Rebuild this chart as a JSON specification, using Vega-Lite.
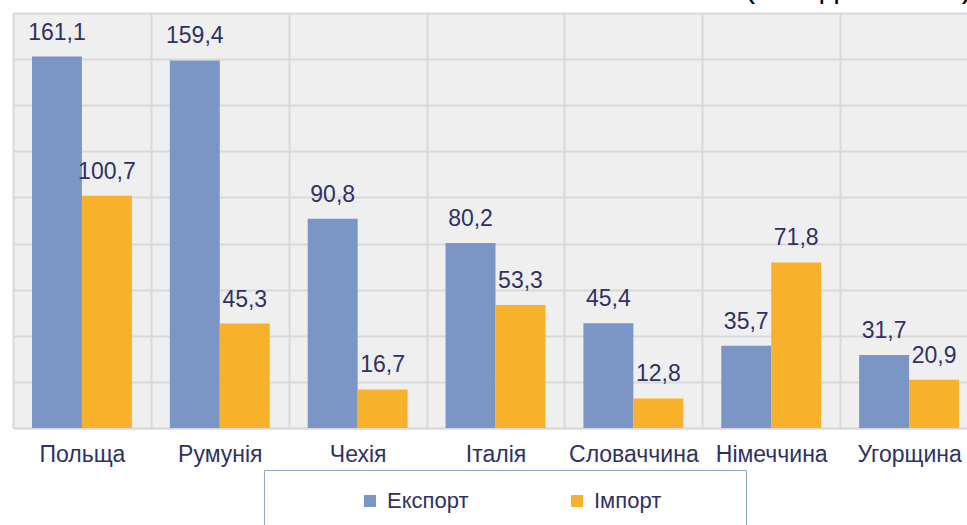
{
  "$schema": "https://vega.github.io/schema/vega-lite/v6.json",
  "width": 965,
  "height": 415,
  "autosize": {"type": "none"},
  "padding": {"left": 13, "top": 13, "right": -11, "bottom": 97},
  "background": "white",
  "title": {"text": "(млн дол. США)", "anchor": "end", "fontSize": 31, "font": "Liberation Sans", "fontWeight": "normal", "color": "black", "baseline": "alphabetic", "offset": 0, "dy": 15, "dx": -6},
  "data": {"values": [
    {"country": "Польща", "type": "Експорт", "value": 161.1},
    {"country": "Польща", "type": "Імпорт", "value": 100.7},
    {"country": "Румунія", "type": "Експорт", "value": 159.4},
    {"country": "Румунія", "type": "Імпорт", "value": 45.3},
    {"country": "Чехія", "type": "Експорт", "value": 90.8},
    {"country": "Чехія", "type": "Імпорт", "value": 16.7},
    {"country": "Італія", "type": "Експорт", "value": 80.2},
    {"country": "Італія", "type": "Імпорт", "value": 53.3},
    {"country": "Словаччина", "type": "Експорт", "value": 45.4},
    {"country": "Словаччина", "type": "Імпорт", "value": 12.8},
    {"country": "Німеччина", "type": "Експорт", "value": 35.7},
    {"country": "Німеччина", "type": "Імпорт", "value": 71.8},
    {"country": "Угорщина", "type": "Експорт", "value": 31.7},
    {"country": "Угорщина", "type": "Імпорт", "value": 20.9}
  ]},
  "encoding": {
    "x": {
      "field": "country", "type": "nominal",
      "sort": ["Польща", "Румунія", "Чехія", "Італія", "Словаччина", "Німеччина", "Угорщина"],
      "scale": {"paddingInner": 0, "paddingOuter": 0},
      "axis": {
        "title": null, "labelAngle": 0, "labelFontSize": 23, "labelFont": "Liberation Sans",
        "labelColor": "#2e3165", "labelPadding": 15, "ticks": false, "tickSize": 0,
        "domainColor": "#d9d9d9", "domainWidth": 2, "grid": true, "tickBand": "extent",
        "gridColor": "#d9d9d9", "gridWidth": 2, "labelOverlap": false, "labelLimit": 300
      }
    },
    "xOffset": {"field": "type", "type": "nominal", "sort": ["Експорт", "Імпорт"], "scale": {"paddingInner": 0, "paddingOuter": 0.38}},
    "y": {
      "field": "value", "type": "quantitative",
      "scale": {"domain": [0, 180], "nice": false},
      "axis": {
        "values": [0, 20, 40, 60, 80, 100, 120, 140, 160, 180], "labels": false, "ticks": false,
        "domain": false, "title": null, "grid": true, "gridColor": "#d9d9d9", "gridWidth": 2
      }
    }
  },
  "layer": [
    {
      "mark": {"type": "bar"},
      "encoding": {
        "color": {
          "field": "type", "type": "nominal",
          "scale": {"domain": ["Експорт", "Імпорт"], "range": ["#7b96c5", "#f7b12b"]},
          "legend": {
            "orient": "none", "legendX": 251, "legendY": 457, "direction": "horizontal",
            "title": "\u2800\u2800\u2800\u2800\u2800", "titleOrient": "left", "titleFontSize": 20.7, "titleFont": "Liberation Sans", "titlePadding": 0,
            "symbolType": "square", "symbolSize": 144, "symbolStrokeWidth": 0,
            "labelFontSize": 22, "labelFont": "Liberation Sans", "labelColor": "#2e3165", "labelOffset": 6, "labelLimit": 400,
            "columnPadding": 97, "padding": 20, "strokeColor": "#8fa6d6", "fillColor": "white",
            "labelExpr": "datum.label == 'Імпорт' ? datum.label + '\u2800\u2800\u2800\u2800' : datum.label"
          }
        }
      }
    },
    {
      "mark": {"type": "text", "baseline": "alphabetic", "dy": -17, "fontSize": 23, "font": "Liberation Sans", "color": "#2e3165"},
      "encoding": {"text": {"field": "value", "type": "quantitative", "format": ".1f"}}
    }
  ],
  "config": {
    "locale": {"number": {"decimal": ",", "thousands": " ", "grouping": [3], "currency": ["", ""]}},
    "view": {"stroke": null, "fill": "#efefef"}
  }
}
